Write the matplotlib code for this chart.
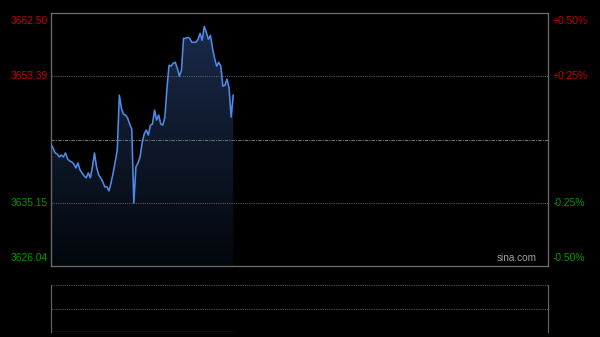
import numpy as np
import matplotlib
matplotlib.use("Agg")
import matplotlib.pyplot as plt
from matplotlib.colors import LinearSegmentedColormap

# intraday minute prices (first 89 minutes of the session)
prices = [
    3643.48, 3643.05, 3642.33, 3642.18, 3641.75, 3642.04, 3641.75, 3642.33, 3641.46, 3641.18,
    3641.03, 3640.75, 3640.17, 3640.89, 3639.88, 3639.45, 3639.02, 3638.74, 3639.45, 3638.74,
    3640.32, 3642.33, 3640.32, 3639.17, 3638.74, 3638.16, 3637.44, 3637.44, 3636.87, 3638.02,
    3639.45, 3641.03, 3642.76, 3650.66, 3648.79, 3647.93, 3647.79, 3647.36, 3646.49, 3645.78,
    3635.14, 3640.32, 3640.89, 3641.75, 3643.76, 3645.06, 3645.63, 3644.91, 3646.35, 3646.49,
    3648.51, 3647.07, 3647.79, 3646.49, 3646.35, 3647.50, 3651.67, 3654.97, 3654.83, 3655.26,
    3655.40, 3654.54, 3653.39, 3654.25, 3658.85, 3658.85, 3658.99, 3658.85, 3658.28, 3658.28,
    3658.28, 3658.71, 3659.57, 3658.56, 3660.57, 3659.71, 3658.71, 3659.28, 3657.41, 3655.98,
    3654.83, 3655.40, 3654.83, 3651.95, 3652.10, 3652.96, 3651.67, 3647.50, 3650.66,
]
prev_close = 3644.27
total_minutes = 240

left_labels = ["3662.50", "3653.39", "3635.15", "3626.04"]
left_values = [3662.50, 3653.39, 3635.15, 3626.04]
right_labels = ["+0.50%", "+0.25%", "-0.25%", "-0.50%"]

RED = "#c80000"
GREEN = "#009600"
FRAME = "#666666"

plt.rcParams["font.family"] = ["Liberation Sans", "DejaVu Sans"]

fig = plt.figure(figsize=(6, 3.37), dpi=100, facecolor="black")
ax = fig.add_axes([0.085, 0.2107, 0.8283, 0.7507], facecolor="black")
vax = fig.add_axes([0.085, 0.0148, 0.8283, 0.1395], facecolor="black")

ymin, ymax = left_values[-1], left_values[0]
x = np.arange(len(prices))
y = np.array(prices)

# gradient fill under the line
grad = LinearSegmentedColormap.from_list("g", ["#03060c", "#1b2c4c"])
img = ax.imshow(np.linspace(0, 1, 256).reshape(-1, 1), cmap=grad, aspect="auto",
                origin="lower", extent=[0, total_minutes, ymin, ymax], zorder=1)
poly = ax.fill_between(x, y, ymin, color="none", lw=0)
clip = poly.get_paths()[0]
img.set_clip_path(clip, transform=ax.transData)

ax.plot(x, y, color="#4f8ae6", lw=1.15, zorder=3)

ax.axhline(left_values[1], color="#5a5a5a", lw=0.8, ls=(0, (1, 1)), zorder=2)
ax.axhline(left_values[2], color="#5a5a5a", lw=0.8, ls=(0, (1, 1)), zorder=2)
ax.axhline(prev_close, color="#6e6e6e", lw=0.8, ls=(0, (3, 1, 1, 1)), zorder=2)

ax.set_xlim(0, total_minutes)
ax.set_ylim(ymin, ymax)
ax.set_xticks([])
ax.set_yticks([])
for s in ax.spines.values():
    s.set_color(FRAME)
    s.set_linewidth(1.0)

# price and percent labels
for i, (lab, val, rlab) in enumerate(zip(left_labels, left_values, right_labels)):
    col = RED if val > prev_close else GREEN
    va = "center"
    if i == 0:
        va = "top"
    elif i == len(left_labels) - 1:
        va = "bottom"
    off = {"top": -2, "bottom": 2, "center": 0}[va]
    ax.annotate(lab, (0, val), xycoords=("axes fraction", "data"), xytext=(-2.5, off),
                textcoords="offset points", ha="right", va=va, color=col, fontsize=7.4)
    ax.annotate(rlab, (1, val), xycoords=("axes fraction", "data"), xytext=(3.5, off),
                textcoords="offset points", ha="left", va=va, color=col, fontsize=7.4)

ax.text(0.978, 0.01, "sina.com", transform=ax.transAxes, ha="right", va="bottom",
        color="#a0a0a0", fontsize=7.2)

# volume panel (empty)
vax.set_xlim(0, total_minutes)
vax.set_ylim(0, 2)
vax.set_xticks([])
vax.set_yticks([])
vax.axhline(1, color="#555555", lw=0.8, ls=(0, (1, 1)))
vax.axhline(2, color="#555555", lw=0.8, ls=(0, (1, 1)))
vax.plot([0, len(prices) - 1], [0.02, 0.02], color="#444444", lw=1.0)
for k in ["top", "bottom"]:
    vax.spines[k].set_visible(False)
vax.axhline(0, color="#555555", lw=0.8, ls=(0, (1, 1)))
for k in ["left", "right"]:
    vax.spines[k].set_color(FRAME)

fig.savefig("out.png", dpi=100, facecolor="black")
